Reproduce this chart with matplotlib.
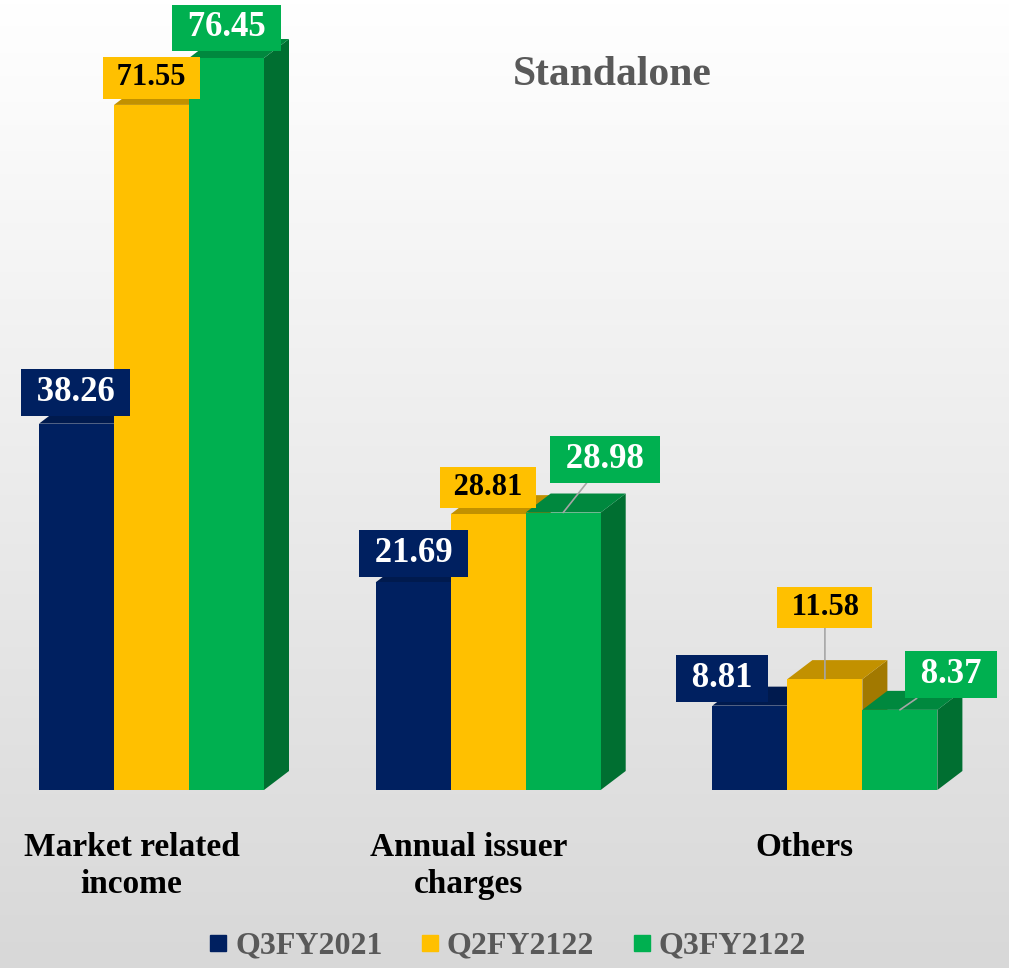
import matplotlib.pyplot as plt
import numpy as np
from matplotlib.colors import LinearSegmentedColormap
from matplotlib.lines import Line2D
from matplotlib.patches import Polygon, Rectangle

# 数据
categories = ['Market related\nincome', 'Annual issuer\ncharges', 'Others']
series_names = ['Q3FY2021', 'Q2FY2122', 'Q3FY2122']
q3fy2021 = [38.26, 21.69, 8.81]
q2fy2122 = [71.55, 28.81, 11.58]
q3fy2122 = [76.45, 28.98, 8.37]

# 颜色: 正面, 顶面, 侧面
front_colors = ['#002060', '#FFC000', '#00B050']
top_colors = ['#001A4E', '#C29100', '#00883E']
side_colors = ['#00163F', '#A27900', '#006F31']
label_colors = ['white', 'black', 'white']

plt.rcParams['font.family'] = ['Liberation Serif', 'DejaVu Serif']

W, H = 1009, 968
fig = plt.figure(figsize=(W / 100, H / 100), dpi=100)
ax = fig.add_axes([0, 0, 1, 1])

# 像素与数据的换算
px_x = 336.7
px_y = 9.575
x0 = 151.5
base = 790
ax.set_xlim(-x0 / px_x, (W - x0) / px_x)
ax.set_ylim(-(H - base) / px_y, base / px_y)
ax.axis('off')

# 背景渐变
grad = np.linspace(0, 1, 256).reshape(-1, 1)
ax.imshow(grad, cmap=LinearSegmentedColormap.from_list('bg', ['#FFFFFF', '#D8D8D8']),
          extent=[*ax.get_xlim(), *ax.get_ylim()], aspect='auto', origin='upper', zorder=0)

w = 75 / px_x
dx = 25 / px_x
dy = 19 / px_y

series = [q3fy2021, q2fy2122, q3fy2122]
# 标签偏移 (像素) 与是否有引线
label_offsets = [
    [(-1, 31), (0, 29), (-28, 27)],
    [(0, 27), (0, 27), (0, 72)],
    [(0, 30), (42, 53), (51, 35)],
]
leaders = [[False, False, False], [False, False, True], [False, True, True]]
label_sizes = [25, 22, 25]

z = 2
for g in range(len(categories)):
    for i, vals in enumerate(series):
        v = vals[g]
        left = g + (i - 1) * w - w / 2
        right = left + w
        top = Polygon([(left, v), (right, v), (right + dx, v + dy), (left + dx, v + dy)],
                      closed=True, facecolor=top_colors[i], edgecolor='none', zorder=z)
        side = Polygon([(right, 0), (right + dx, dy), (right + dx, v + dy), (right, v)],
                       closed=True, facecolor=side_colors[i], edgecolor='none', zorder=z)
        front = Rectangle((left, 0), w, v, facecolor=front_colors[i], edgecolor='none', zorder=z + 1)
        ax.add_patch(side)
        ax.add_patch(top)
        ax.add_patch(front)
        z += 2

# 数据标签
for g in range(len(categories)):
    for i, vals in enumerate(series):
        v = vals[g]
        xc = g + (i - 1) * w
        arrow = dict(arrowstyle='-', color='#A6A6A6', lw=1.2, shrinkA=0, shrinkB=0) if leaders[i][g] else None
        ax.annotate(f' {v:.2f} ', xy=(xc, v), xytext=label_offsets[i][g], textcoords='offset pixels',
                    ha='center', va='center', fontsize=label_sizes[i], fontweight='bold',
                    color=label_colors[i], zorder=50, arrowprops=arrow,
                    bbox=dict(boxstyle='square,pad=0.2', facecolor=front_colors[i], edgecolor='none'))

# 类别标签, 每行单独放置
for g, name in enumerate(categories):
    for k, line in enumerate(name.split('\n')):
        ax.text(g - 20 / px_x, (base - 856 - 37 * k) / px_y, line, ha='center', va='baseline',
                fontsize=24, fontweight='bold', color='black')

ax.text((612 - x0) / px_x, (base - 75) / px_y, 'Standalone', ha='center', va='center',
        fontsize=30, fontweight='bold', color='#595959')

handles = [Line2D([], [], marker='s', linestyle='none', markersize=12.2, color=c) for c in front_colors]
fig.legend(handles, series_names, loc='center', bbox_to_anchor=(507.5 / W, 1 - 946 / H), ncol=3,
           frameon=False, handlelength=0.6, handletextpad=0.22, columnspacing=1.2,
           prop={'weight': 'bold', 'size': 23}, labelcolor='#595959')

fig.savefig('out.png', dpi=100)
